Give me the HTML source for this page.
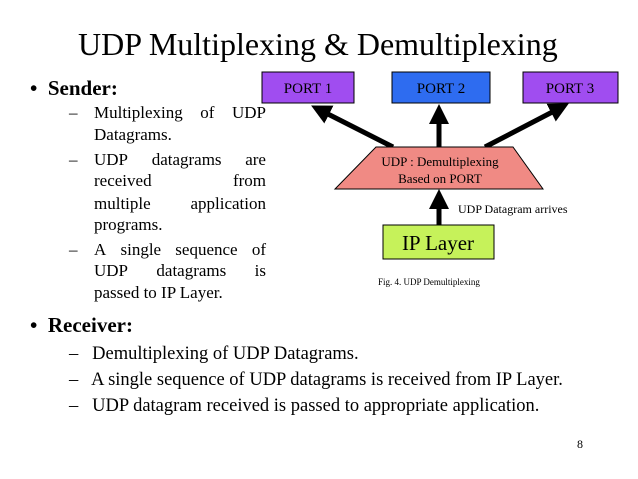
<!DOCTYPE html>
<html><head><style>
body{margin:0;width:638px;height:479px;background:#fff;font-family:"Liberation Serif",serif;position:relative;overflow:hidden;color:#000}
.a{position:absolute;white-space:nowrap}
.l{position:absolute;left:94px;width:172px;font-size:17px;line-height:20px;white-space:nowrap}
.f{display:flex;justify-content:space-between}
.d{position:absolute;left:69px;font-size:17px;line-height:20px}
</style></head><body>
<div class="a" style="left:78px;top:26px;font-size:32px">UDP Multiplexing &amp; Demultiplexing</div>
<div class="a" style="left:30px;top:76px;font-size:21px;font-weight:bold">•&nbsp; Sender:</div>
<div class="d" style="top:103px">–</div>
<div class="l f" style="top:103px"><span>Multiplexing</span><span>of</span><span>UDP</span></div>
<div class="l" style="top:125px">Datagrams.</div>
<div class="d" style="top:150px">–</div>
<div class="l f" style="top:150px"><span>UDP</span><span>datagrams</span><span>are</span></div>
<div class="l f" style="top:171px"><span>received</span><span>from</span></div>
<div class="l f" style="top:194px"><span>multiple</span><span>application</span></div>
<div class="l" style="top:215px">programs.</div>
<div class="d" style="top:240px">–</div>
<div class="l f" style="top:240px"><span>A</span><span>single</span><span>sequence</span><span>of</span></div>
<div class="l f" style="top:261px"><span>UDP</span><span>datagrams</span><span>is</span></div>
<div class="l" style="top:283px">passed to IP Layer.</div>
<div class="a" style="left:30px;top:313px;font-size:21px;font-weight:bold">•&nbsp; Receiver:</div>
<div class="a" style="left:69px;top:344px;font-size:18.5px">–&nbsp;&nbsp; Demultiplexing of UDP Datagrams.</div>
<div class="a" style="left:69px;top:370px;font-size:18.5px">–&nbsp;&nbsp; A single sequence of UDP datagrams is received from IP Layer.</div>
<div class="a" style="left:69px;top:396px;font-size:18.5px">–&nbsp;&nbsp; UDP datagram received is passed to appropriate application.</div>
<div class="a" style="left:577px;top:437px;font-size:12px">8</div>
<svg width="638" height="479" style="position:absolute;left:0;top:0">
<defs><marker id="m" markerWidth="4" markerHeight="4" refX="2" refY="2" orient="auto" markerUnits="strokeWidth"><path d="M0,0L4,2L0,4z" fill="#000"/></marker></defs>
<rect x="262" y="72" width="92" height="31" fill="#a04df0" stroke="#000"/>
<rect x="392" y="72" width="98" height="31" fill="#2e6cf0" stroke="#000"/>
<rect x="523" y="72" width="95" height="31" fill="#a04df0" stroke="#000"/>
<g font-family="Liberation Serif" font-size="15" text-anchor="middle">
<text x="308" y="93">PORT 1</text><text x="441" y="93">PORT 2</text><text x="570" y="93">PORT 3</text></g>
<g stroke="#000" stroke-width="5" marker-end="url(#m)">
<line x1="393" y1="147" x2="320" y2="110"/>
<line x1="439" y1="147" x2="439" y2="114"/>
<line x1="485" y1="147" x2="560" y2="108"/>
<line x1="439" y1="225" x2="439" y2="199"/>
</g>
<polygon points="376,147 513,147 543,189 335,189" fill="#f08a84" stroke="#000"/>
<g font-family="Liberation Serif" font-size="13" text-anchor="middle">
<text x="440" y="166">UDP : Demultiplexing</text><text x="440" y="183">Based on PORT</text></g>
<rect x="383" y="225" width="111" height="34" fill="#c6f25a" stroke="#000"/>
<text x="438" y="250" font-family="Liberation Serif" font-size="21" text-anchor="middle">IP Layer</text>
<text x="458" y="213" font-family="Liberation Serif" font-size="12">UDP Datagram arrives</text>
<text x="378" y="285" font-family="Liberation Serif" font-size="9">Fig. 4. UDP Demultiplexing</text>
</svg>
</body></html>
